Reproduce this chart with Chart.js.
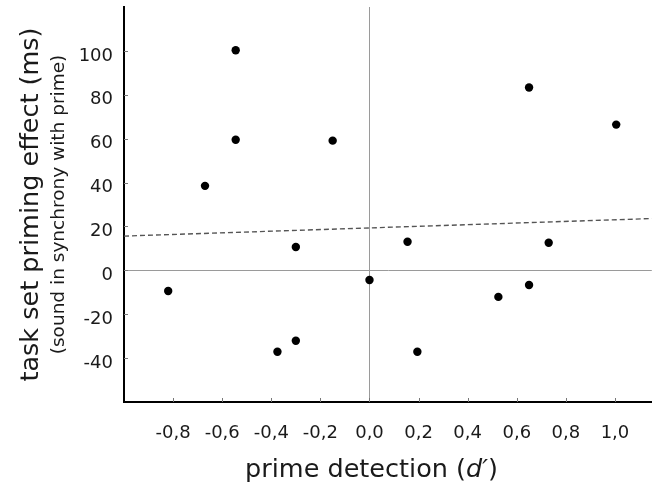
<!DOCTYPE html>
<html><head><meta charset="utf-8">
<script src="https://cdn.jsdelivr.net/npm/chart.js@4/dist/chart.umd.min.js"></script>
<style>html,body{margin:0;padding:0;background:#fff;} #wrap{width:656px;height:488px;position:relative;}</style>
</head><body><div id="wrap"><canvas id="c"></canvas></div>
<script>
// ---- data ----
const primeDetection = [-0.545, -0.545, -0.67, -0.15, 0.65, 1.005, -0.30, 0.155, 0.73, -0.82, 0.0, 0.525, 0.65, -0.375, -0.30, 0.195];
const primingEffect  = [100.3, 59.5, 38.5, 59.1, 83.3, 66.4, 10.6, 13.0, 12.6, -9.4, -4.4, -12.1, -6.7, -37.1, -32.1, -37.1];
const fitX = [-1.0, 1.15];
const fitY = [15.6, 23.6];
const xTickValues = [-0.8, -0.6, -0.4, -0.2, 0, 0.2, 0.4, 0.6, 0.8, 1.0];
const xTickLabels = ['-0,8', '-0,6', '-0,4', '-0,2', '0,0', '0,2', '0,4', '0,6', '0,8', '1,0'];
const yTickValues = [-40, -20, 0, 20, 40, 60, 80, 100];
const yTickLabels = ['-40', '-20', '0', '20', '40', '60', '80', '100'];
const xRange = [-1.0, 1.15];
const yRange = [-60, 120];
const yTitle = 'task set priming effect (ms)';
const ySubTitle = '(sound in synchrony with prime)';
const xTitleParts = ['prime detection (', 'd\u2032', ')'];

const FONT = "'DejaVu Sans', 'Liberation Sans', Arial, sans-serif";
const TXT = '#1a1a1a';

const pts = primeDetection.map((x, i) => ({x: x, y: primingEffect[i]}));
const fit = fitX.map((x, i) => ({x: x, y: fitY[i]}));

const zeroGrid = (ctx) => (ctx.tick && ctx.tick.value === 0) ? '#9a9a9a' : 'rgba(0,0,0,0)';

const innerTicks = {
  id: 'innerTicks',
  afterDatasetsDraw(chart) {
    const {ctx, chartArea: a} = chart;
    const xs = chart.scales.x, ys = chart.scales.y;
    ctx.save();
    ctx.strokeStyle = '#777';
    ctx.lineWidth = 1;
    ctx.beginPath();
    xTickValues.forEach(v => { const p = Math.round(xs.getPixelForValue(v)) + 0.5; ctx.moveTo(p, a.bottom); ctx.lineTo(p, a.bottom - 4); });
    yTickValues.forEach(v => { const p = Math.round(ys.getPixelForValue(v)) + 0.5; ctx.moveTo(a.left, p); ctx.lineTo(a.left + 4, p); });
    ctx.stroke();
    ctx.restore();
  },
  afterDraw(chart) {
    const {ctx, chartArea: a} = chart;
    const xs = chart.scales.x;
    ctx.save();
    ctx.fillStyle = TXT;
    ctx.textBaseline = 'alphabetic';
    const normal = "25.5px " + FONT;
    const italic = "italic 25.5px " + FONT;
    ctx.font = normal; const w0 = ctx.measureText(xTitleParts[0]).width; const w2 = ctx.measureText(xTitleParts[2]).width;
    ctx.font = italic; const w1 = ctx.measureText(xTitleParts[1]).width;
    const total = w0 + w1 + w2;
    let x = xs.getPixelForValue(0) + 2 - total / 2;
    const y = a.bottom + 75;
    ctx.textAlign = 'left';
    ctx.font = normal; ctx.fillText(xTitleParts[0], x, y); x += w0;
    ctx.font = italic; ctx.fillText(xTitleParts[1], x, y); x += w1;
    ctx.font = normal; ctx.fillText(xTitleParts[2], x, y);
    ctx.restore();
  }
};

const noPad = s => { s.paddingTop = 0; s.paddingBottom = 0; };

new Chart(document.getElementById('c'), {
  type: 'scatter',
  data: {
    datasets: [
      { data: fit, showLine: true, borderColor: '#555', borderWidth: 1.4, borderDash: [5, 3], pointRadius: 0, order: 2, yAxisID: 'y' },
      { data: pts, backgroundColor: '#000', borderWidth: 0, pointRadius: 4.2, order: 1, yAxisID: 'y' }
    ]
  },
  options: {
    responsive: true, maintainAspectRatio: false, animation: false,
    layout: { padding: { top: 7, right: 1, left: 0, bottom: 0 } },
    plugins: { legend: { display: false }, tooltip: { enabled: false } },
    scales: {
      x: {
        type: 'linear', position: 'bottom', min: xRange[0], max: xRange[1],
        afterBuildTicks: s => { s.ticks = xTickValues.map(v => ({value: v})); },
        afterFit: s => { s.height = 86; s.paddingLeft = 0; s.paddingRight = 0; },
        ticks: { callback: v => xTickLabels[xTickValues.indexOf(v)], color: TXT, padding: 21, maxRotation: 0, autoSkip: false, font: { family: FONT, size: 18 } },
        grid: { color: zeroGrid, lineWidth: 1, drawTicks: false },
        border: { display: true, color: '#000', width: 2 }
      },
      yt: {
        type: 'linear', position: 'left', weight: 1, min: yRange[0], max: yRange[1],
        afterFit: s => { s.width = 46; noPad(s); },
        ticks: { display: false },
        grid: { display: false, drawTicks: false },
        border: { display: false },
        title: { display: true, text: yTitle, color: TXT, padding: { top: 15.7, bottom: 0 }, font: { family: FONT, size: 25.5 } }
      },
      y: {
        type: 'linear', position: 'left', weight: 0, min: yRange[0], max: yRange[1],
        afterBuildTicks: s => { s.ticks = yTickValues.map(v => ({value: v})); },
        afterFit: s => { s.width = 78; noPad(s); },
        ticks: { callback: v => yTickLabels[yTickValues.indexOf(v)], color: TXT, padding: 11, labelOffset: 5, font: { family: FONT, size: 18 } },
        grid: { color: zeroGrid, lineWidth: 1, drawTicks: false },
        border: { display: true, color: '#000', width: 2 },
        title: { display: true, text: ySubTitle, color: TXT, padding: { top: 2.5, bottom: 0 }, font: { family: FONT, size: 18.5 } }
      }
    }
  },
  plugins: [innerTicks]
});
</script>
</body></html>
